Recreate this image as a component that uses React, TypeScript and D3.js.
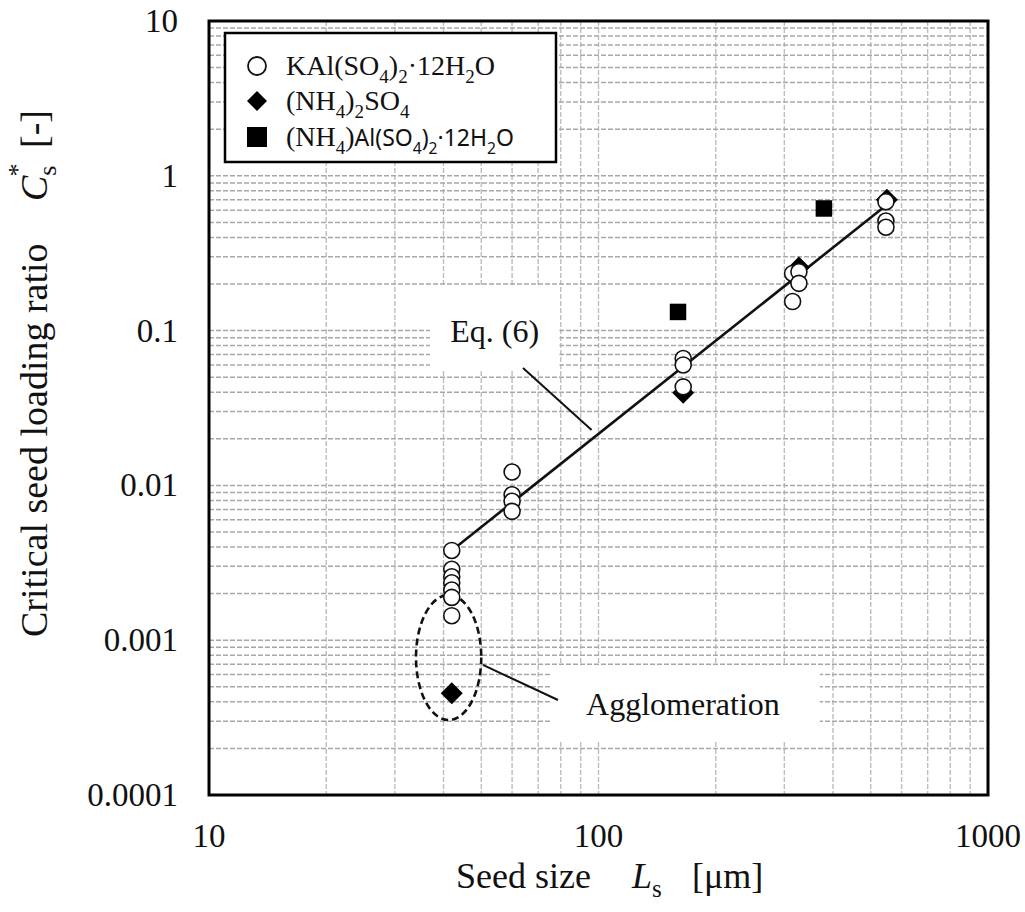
import React from "react";
import * as d3 from "d3";

// ---- data ----
const kalX = [42, 42, 42, 42, 42, 42, 42, 60, 60, 60, 60, 165, 165, 165, 315, 315, 327, 327, 547, 547, 547];
const kalY = [0.0038, 0.00287, 0.00257, 0.00235, 0.00211, 0.00189, 0.00144, 0.0122, 0.0087, 0.0079, 0.0068, 0.066, 0.06, 0.0433, 0.234, 0.154, 0.24, 0.202, 0.68, 0.51, 0.465];
const nh4X = [42, 165, 327, 550];
const nh4Y = [0.000454, 0.0397, 0.256, 0.7];
const nhAlX = [160, 379];
const nhAlY = [0.132, 0.615];
const fitX = [42, 550];
const fitY = [0.0038, 0.65];
const xTickValues = [10, 100, 1000];
const xTickLabels = ["10", "100", "1000"];
const yTickValues = [0.0001, 0.001, 0.01, 0.1, 1, 10];
const yTickLabels = ["0.0001", "0.001", "0.01", "0.1", "1", "10"];
// annotation anchors (data units)
const ellipseX = [34, 50];
const ellipseY = [0.000305, 0.00196];
const eqLeaderX = [64, 96];
const eqLeaderY = [0.0573, 0.0228];
const eqBoxX = [36.9, 79.4];
const eqBoxY = [0.0556, 0.191];
const agLeaderX = [50.5, 78.7];
const agLeaderY = [0.000692, 0.000411];
const agBoxX = [76, 370];
const agBoxY = [0.00022, 0.00069];

const SERIF = "'Liberation Serif', 'Times New Roman', serif";
const SANS = "'Noto Sans', 'Open Sans', sans-serif";

type Part = { t: string; sub?: boolean; sans?: boolean };

function Formula({ parts, x, y, size, sansSize }: { parts: Part[]; x: number; y: number; size: number; sansSize?: number }) {
  let shifted = false;
  return (
    <text x={x} y={y} fontSize={size} fontFamily={SERIF} fill="#111">
      {parts.map((p, i) => {
        const base = p.sans && sansSize ? sansSize : size;
        const sub = size * 0.3;
        let dy = 0;
        if (p.sub && !shifted) { dy = sub; shifted = true; }
        else if (!p.sub && shifted) { dy = -sub; shifted = false; }
        return (
          <tspan key={i} dy={dy} fontSize={p.sub ? base * 0.68 : base} fontFamily={p.sans ? SANS : SERIF}>
            {p.t}
          </tspan>
        );
      })}
    </text>
  );
}

export default function App() {
  const W = 1025, H = 912;
  const x = d3.scaleLog().domain([10, 1000]).range([209, 988]);
  const y = d3.scaleLog().domain([0.0001, 10]).range([795, 21]);
  const xGrid = x.ticks();
  const yGrid = y.ticks();
  const diamond = d3.symbol(d3.symbolSquare, 242)()!;
  const square = d3.symbol(d3.symbolSquare, 272)()!;
  const legDiamond = d3.symbol(d3.symbolSquare, 200)()!;
  const legSquare = d3.symbol(d3.symbolSquare, 400)()!;
  const fitLine = d3.line<number>().x((d) => x(fitX[d])).y((d) => y(fitY[d]))([0, 1])!;

  const ecx = (x(ellipseX[0]) + x(ellipseX[1])) / 2;
  const ecy = (y(ellipseY[0]) + y(ellipseY[1])) / 2;
  const erx = (x(ellipseX[1]) - x(ellipseX[0])) / 2;
  const ery = (y(ellipseY[0]) - y(ellipseY[1])) / 2;

  const lx = 225, ly = 33;
  return (
    <svg width={W} height={H} style={{ display: "block", position: "absolute", left: 0, top: 0, background: "#fff" }}>
      <rect x={0} y={0} width={W} height={H} fill="#fff" />
      {/* grid */}
      <g>
        {xGrid.map((v, i) => (
          <line key={"gx" + i} x1={x(v)} x2={x(v)} y1={21} y2={795} stroke="#bdbdbd" strokeWidth={1.4} strokeDasharray="5,2" />
        ))}
        {yGrid.map((v, i) => (
          <line key={"gy" + i} x1={209} x2={988} y1={y(v)} y2={y(v)} stroke="#a8a8a8" strokeWidth={1.5} strokeDasharray="5,2" />
        ))}
      </g>
      {/* label boxes */}
      <rect x={x(eqBoxX[0])} y={y(eqBoxY[1])} width={x(eqBoxX[1]) - x(eqBoxX[0])} height={y(eqBoxY[0]) - y(eqBoxY[1])} fill="#fff" />
      <rect x={x(agBoxX[0])} y={y(agBoxY[1])} width={x(agBoxX[1]) - x(agBoxX[0])} height={y(agBoxY[0]) - y(agBoxY[1])} fill="#fff" />
      {/* fit line */}
      <path d={fitLine} stroke="#111" strokeWidth={2.6} fill="none" />
      {/* leaders */}
      <line x1={x(eqLeaderX[0])} y1={y(eqLeaderY[0])} x2={x(eqLeaderX[1])} y2={y(eqLeaderY[1])} stroke="#111" strokeWidth={2} />
      <line x1={x(agLeaderX[0])} y1={y(agLeaderY[0])} x2={x(agLeaderX[1])} y2={y(agLeaderY[1])} stroke="#111" strokeWidth={2} />
      <ellipse cx={ecx} cy={ecy} rx={erx} ry={ery} fill="none" stroke="#111" strokeWidth={2.6} strokeDasharray="7,4" />
      {/* data */}
      {nh4X.map((v, i) => (
        <path key={"d" + i} d={diamond} transform={`translate(${x(v)},${y(nh4Y[i])}) rotate(45)`} fill="#000" />
      ))}
      {kalX.map((v, i) => (
        <circle key={"c" + i} cx={x(v)} cy={y(kalY[i])} r={8} fill="#fff" stroke="#111" strokeWidth={1.6} />
      ))}
      {nhAlX.map((v, i) => (
        <path key={"s" + i} d={square} transform={`translate(${x(v)},${y(nhAlY[i])})`} fill="#000" />
      ))}
      {/* annotations */}
      <text x={(x(eqBoxX[0]) + x(eqBoxX[1])) / 2} y={y(0.1) + 11} textAnchor="middle" fontSize={32} fontFamily={SERIF} fill="#111">Eq. (6)</text>
      <text x={(x(agBoxX[0]) + x(agBoxX[1])) / 2 - 3} y={(y(agBoxY[0]) + y(agBoxY[1])) / 2 + 11} textAnchor="middle" fontSize={32} fontFamily={SERIF} fill="#111">Agglomeration</text>
      {/* frame */}
      <rect x={209} y={21} width={779} height={774} fill="none" stroke="#000" strokeWidth={3} />
      {/* legend */}
      <rect x={lx} y={ly} width={331} height={129} fill="#fff" stroke="#000" strokeWidth={2.5} />
      <circle cx={257} cy={66} r={9} fill="#fff" stroke="#111" strokeWidth={1.8} />
      <path d={legDiamond} transform="translate(257,101) rotate(45)" fill="#000" />
      <path d={legSquare} transform="translate(257,137)" fill="#000" />
      <Formula x={286} y={75} size={28} parts={[{ t: "KAl(SO" }, { t: "4", sub: true }, { t: ")" }, { t: "2", sub: true }, { t: "·12H" }, { t: "2", sub: true }, { t: "O" }]} />
      <Formula x={286} y={110} size={28} parts={[{ t: "(NH" }, { t: "4", sub: true }, { t: ")" }, { t: "2", sub: true }, { t: "SO" }, { t: "4", sub: true }]} />
      <Formula x={286} y={146} size={28} sansSize={23} parts={[{ t: "(NH" }, { t: "4", sub: true }, { t: ")" }, { t: "Al(SO", sans: true }, { t: "4", sub: true, sans: true }, { t: ")", sans: true }, { t: "2", sub: true, sans: true }, { t: "·12H", sans: true }, { t: "2", sub: true, sans: true }, { t: "O", sans: true }]} />
      {/* ticks labels */}
      {xTickValues.map((v, i) => (
        <text key={"xt" + i} x={x(v)} y={847} textAnchor="middle" fontSize={33} fontFamily={SERIF} fill="#111">{xTickLabels[i]}</text>
      ))}
      {yTickValues.map((v, i) => (
        <text key={"yt" + i} x={178} y={y(v) + 11} textAnchor="end" fontSize={33} fontFamily={SERIF} fill="#111">{yTickLabels[i]}</text>
      ))}
      {/* x title */}
      <text x={456} y={888} fontSize={36} fontFamily={SERIF} fill="#111">Seed size</text>
      <text x={632} y={888} fontSize={36} fontFamily={SERIF} fill="#111">
        <tspan fontStyle="italic">L</tspan>
        <tspan dy={9} fontSize={25}>s</tspan>
      </text>
      <text x={692} y={888} fontSize={36} fontFamily={SERIF} fill="#111">[μm]</text>
      {/* y title */}
      <g transform="translate(47,637) rotate(-90)">
        <text x={0} y={0} fontSize={38} fontFamily={SERIF} fill="#111">Critical seed loading ratio</text>
        <text x={436} y={0} fontSize={38} fontFamily={SERIF} fill="#111">
          <tspan fontStyle="italic">C</tspan>
          <tspan dy={9} fontSize={26}>s</tspan>
          <tspan dx={-11} dy={-30} fontSize={26}>*</tspan>
        </text>
        <text x={489} y={0} fontSize={38} fontFamily={SERIF} fill="#111">[-]</text>
      </g>
    </svg>
  );
}
